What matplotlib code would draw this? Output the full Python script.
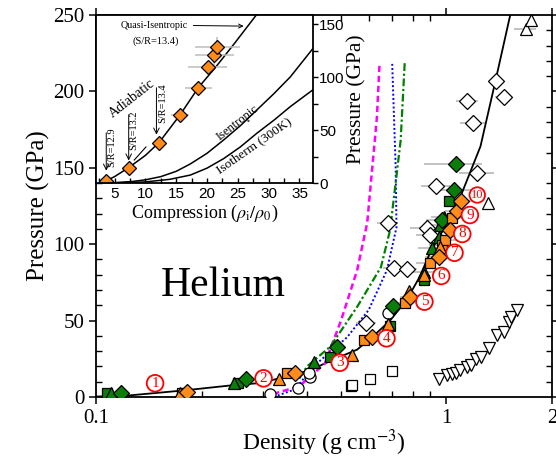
import numpy as np
import matplotlib
matplotlib.use("Agg")
import matplotlib.pyplot as plt
from matplotlib.ticker import FixedLocator, NullFormatter, MultipleLocator

plt.rcParams['font.family'] = ['Liberation Serif', 'DejaVu Serif']
plt.rcParams['mathtext.fontset'] = 'stix'

# ── Main panel data (density g/cc, pressure GPa) ──────────────────────────────
fit_rho = [0.1, 0.12, 0.18, 0.25, 0.29, 0.35, 0.41, 0.47, 0.556, 0.633, 0.69,
           0.77, 0.84, 0.9, 1.0, 1.1, 1.25, 1.38, 1.52]
fit_p   = [0.3, 0.7, 4.4, 7.9, 9.0, 13.3, 17.7, 24.0, 31.0, 42.0, 50.0,
           63.5, 79.0, 95.0, 113.0, 132.0, 164.0, 207.0, 250.0]

mag_rho = [0.32, 0.38, 0.45, 0.50, 0.556, 0.594, 0.633, 0.644]
mag_p   = [2, 7, 22, 50, 83, 114, 183, 218]
blu_rho = [0.33, 0.37, 0.417, 0.52, 0.60, 0.676, 0.72, 0.716, 0.70]
blu_p   = [1, 5, 20, 39, 57, 83, 111, 151, 218]
grn_rho = [0.38, 0.40, 0.466, 0.556, 0.65, 0.69, 0.74, 0.76]
grn_p   = [12, 20, 33, 59, 85, 109, 168, 219]

gd_rho = [0.118, 0.267, 0.487, 0.704, 0.972, 1.054, 1.061]
gd_p   = [2.4, 11.6, 33.0, 59.6, 115.8, 135.5, 152.5]
gd_err = [0, 0, 0, 0, 0.10, 0.14, 0.20]

gt_rho = [0.110, 0.247, 0.418, 0.861, 0.910, 0.951, 0.957, 0.983]
gt_p   = [2.4, 9.0, 23.1, 82.0, 97.3, 105.0, 112.6, 118.0]
gt_err = [0, 0, 0, 0.07, 0.08, 0.08, 0.08, 0.08]

gs_rho = [0.1075, 0.2545, 0.466, 0.692, 0.861, 1.015]
gs_p   = [2.3, 9.4, 26.4, 46.5, 76.6, 128.5]

od_rho = [0.1816, 0.370, 0.6135, 0.789, 0.951, 1.022, 1.073, 1.102]
od_p   = [3.5, 15.5, 39.0, 65.2, 91.4, 109.3, 122.0, 128.5]
od_err = [0, 0, 0, 0.05, 0.08, 0.08, 0.08, 0.08]

os_rho = [0.176, 0.3507, 0.580, 0.759, 0.896, 0.972, 0.993, 1.038]
os_p   = [2.3, 15.5, 37.3, 61.3, 87.5, 99.5, 102.7, 117.0]
os_err = [0, 0, 0, 0.05, 0.08, 0.08, 0.08, 0.08]

ot_rho = [0.174, 0.332, 0.538, 0.680, 0.780, 0.861, 0.961]
ot_p   = [2.4, 11.6, 27.5, 47.8, 69.6, 80.0, 98.4]

circ_rho = [0.314, 0.378, 0.409, 0.405, 0.680]
circ_p   = [1.8, 5.7, 13.3, 16.0, 55.2]

sq_rho = [0.534, 0.538, 0.6065, 0.6995]
sq_p   = [7.2, 7.9, 11.6, 17.0]

dia_rho = [0.680, 0.710, 0.772, 0.591, 0.877, 0.900, 0.936, 1.224, 1.192, 1.146, 1.458, 1.387]
dia_p   = [113.7, 84.2, 83.6, 48.2, 110.4, 106.0, 137.9, 146.8, 179.5, 194.0, 196.5, 207.0]
dia_err = [0.046, 0.05, 0.05, 0.04, 0.09, 0.08, 0.09, 0.14, 0.10, 0.08, 0.08, 0.06]

dt_rho = [0.951, 1.005, 1.038, 1.061, 1.096, 1.141, 1.171, 1.21, 1.251, 1.321,
          1.396, 1.458, 1.506, 1.525, 1.592]
dt_p   = [11.6, 14.4, 15.0, 15.9, 17.7, 19.4, 21.0, 24.7, 26.4, 31.8,
          40.6, 42.7, 49.3, 52.6, 57.0]

ut_rho = [1.313, 1.682, 1.738]
ut_p   = [126.8, 240.6, 246.7]
ut_err = [0, 0.12, 0]

lab_num = ['1', '2', '3', '4', '5', '6', '7', '8', '9', '10']
lab_rho = [0.1474, 0.3006, 0.496, 0.674, 0.865, 0.966, 1.054, 1.109, 1.166, 1.224]
lab_p   = [9.0, 12.2, 22.4, 38.4, 62.4, 79.2, 94.4, 106.7, 119.1, 132.2]

# ── Inset data (compression, pressure GPa) ───────────────────────────────────
qi_x = [3.6, 5.0, 7.3, 10.0, 12.2, 15.6, 18.6, 21.5, 24.5, 28.0]
qi_p = [2, 6, 14.5, 26, 38, 64, 90, 110, 132, 158.5]
is_x = [3, 5.5, 8, 10, 12.5, 15, 17.3, 20, 22.7, 25.4, 28.1, 30.8, 33.5, 37.2]
is_p = [0, 0.5, 1.5, 3, 6, 11, 18, 28, 40.6, 54, 69, 84, 100, 127]
it_x = [3, 6, 10, 14, 17.3, 20, 22.7, 25.4, 28.1, 30.8, 33.5, 37.2]
it_p = [0, 0.3, 1, 3.5, 7.5, 14, 23, 34, 47, 59, 72, 88]
ins_x    = [3.66, 7.3, 12.2, 15.6, 18.6, 20.1, 21.2, 21.7]
ins_p    = [1.9, 14.4, 38.0, 64.0, 90.0, 109.0, 121.0, 128.0]
ins_xerr = [0, 0, 0, 1.5, 2.2, 3.2, 3.2, 3.7]
ins_perr = [0, 0, 0, 0, 4, 6, 10, 10]

GREEN = '#0a7d0a'
ORANGE = '#ff8c1a'
GRAY = '#bdbdbd'

fig = plt.figure(figsize=(5.56, 4.59), dpi=100)
ax = fig.add_axes([0.1727, 0.1351, 0.8201, 0.8322])

def err(x, y, e):
    ax.errorbar(x, y, xerr=np.asarray(e), fmt='none', ecolor=GRAY,
                elinewidth=1.3, zorder=2)

err(dia_rho, dia_p, dia_err)
err(gd_rho, gd_p, gd_err)
err(gt_rho, gt_p, gt_err)
err(od_rho, od_p, od_err)
err(os_rho, os_p, os_err)
err(ut_rho, ut_p, ut_err)

ax.plot(fit_rho, fit_p, color='black', lw=1.3, zorder=3)
ax.plot(mag_rho, mag_p, color='magenta', lw=1.8, ls=(0, (2.5, 1.5)), zorder=3)
ax.plot(blu_rho, blu_p, color='blue', lw=1.4, ls=(0, (1, 1.2)), zorder=3)
ax.plot(grn_rho, grn_p, color='green', lw=1.6, ls=(0, (3.5, 1.2, 1, 1.2)), zorder=3)

mk = dict(ls='none', mec='black', mew=0.9, zorder=4)
ax.plot(sq_rho, sq_p, marker='s', ms=7.5, mfc='white', **mk)
ax.plot(circ_rho, circ_p, marker='o', ms=8, mfc='white', **mk)
ax.plot(dt_rho, dt_p, marker='v', ms=9, mfc='white', **mk)
ax.plot(ut_rho, ut_p, marker='^', ms=9, mfc='white', **mk)
ax.plot(dia_rho, dia_p, marker='D', ms=8.5, mfc='white', **mk)
ax.plot(gs_rho, gs_p, marker='s', ms=7.5, mfc=GREEN, **mk)
ax.plot(gt_rho, gt_p, marker='^', ms=9, mfc=GREEN, **mk)
ax.plot(gd_rho, gd_p, marker='D', ms=8.5, mfc=GREEN, **mk)
ax.plot(os_rho, os_p, marker='s', ms=7.5, mfc=ORANGE, **mk)
ax.plot(ot_rho, ot_p, marker='^', ms=9, mfc=ORANGE, **mk)
ax.plot(od_rho, od_p, marker='D', ms=8.5, mfc=ORANGE, **mk)

for t, x, y in zip(lab_num, lab_rho, lab_p):
    ax.text(x, y, t, color='red', fontsize=11 if len(t) == 1 else 9,
            ha='center', va='center', zorder=6,
            bbox=dict(boxstyle='circle,pad=0.12', fc='white', ec='red', lw=1.3))

ax.text(0.2306, 73, 'Helium', fontsize=30, ha='center', va='center')

ax.set_xscale('log')
ax.set_xlim(0.1, 2.0)
ax.set_ylim(0, 250)
ax.xaxis.set_major_locator(FixedLocator([0.1, 1, 2]))
ax.xaxis.set_minor_locator(FixedLocator([0.2, 0.3, 0.4, 0.5, 0.6, 0.7, 0.8, 0.9]))
ax.set_xticklabels(['0.1', '1', '2'])
ax.xaxis.set_minor_formatter(NullFormatter())
ax.yaxis.set_major_locator(MultipleLocator(50))
ax.yaxis.set_minor_locator(MultipleLocator(10))
ax.tick_params(which='major', direction='out', length=5, width=1.1, labelsize=15,
               top=True, right=True)
ax.tick_params(which='minor', direction='in', length=4, width=1, top=True, right=True)
for s in ax.spines.values():
    s.set_linewidth(1.3)
ax.set_xlabel('Density (g cm$^{-3}$)', fontsize=17, labelpad=0)
ax.set_ylabel('Pressure (GPa)', fontsize=18, labelpad=2)

# ── Inset ────────────────────────────────────────────────────────────────────
ax2 = fig.add_axes([0.1727, 0.6013, 0.3903, 0.366])
ax2.set_facecolor('white')
ax2.plot(qi_x, qi_p, color='black', lw=1.1)
ax2.plot(is_x, is_p, color='black', lw=1.1)
ax2.plot(it_x, it_p, color='black', lw=1.1)
ax2.errorbar(ins_x, ins_p, xerr=ins_xerr, yerr=ins_perr, fmt='none',
             ecolor=GRAY, elinewidth=1.1)
ax2.plot(ins_x, ins_p, marker='D', ms=7.5, ls='none', mfc=ORANGE, mec='black', mew=0.9)

ax2.set_xlim(2, 37.2)
ax2.set_ylim(0, 158.5)
ax2.xaxis.set_major_locator(MultipleLocator(5))
ax2.xaxis.set_minor_locator(MultipleLocator(2.5))
ax2.yaxis.set_major_locator(MultipleLocator(50))
ax2.yaxis.set_minor_locator(MultipleLocator(25))
ax2.yaxis.tick_right()
ax2.yaxis.set_label_position('right')
ax2.tick_params(axis='x', which='both', direction='in', length=3.5, width=1)
ax2.tick_params(axis='y', which='both', direction='out', length=3.5, width=1,
                left=False, right=True)
for lab in ax2.get_xticklabels() + ax2.get_yticklabels():
    lab.set_family(['Liberation Sans', 'DejaVu Sans'])
    lab.set_fontsize(11)
ax2.tick_params(axis='x', pad=3)
ax2.tick_params(axis='y', pad=1)
for s in ax2.spines.values():
    s.set_linewidth(1.3)
ax2.set_xlabel(r'Compression ($\rho_{\rm i}/\rho_0$)', fontsize=13, labelpad=1)
ax2.set_ylabel('Pressure (GPa)', fontsize=15.5, labelpad=2)

ax2.annotate('Quasi-Isentropic', xy=(26.4, 148), xytext=(6, 149), fontsize=7.2,
             ha='left', va='center',
             arrowprops=dict(arrowstyle='->', lw=0.7, color='black'))
ax2.text(11.7, 134, '(S/R=13.4)', fontsize=7.5, ha='center', va='center')
ax2.text(7.8, 80, 'Adiabatic', fontsize=10, rotation=38, ha='center', va='center')
ax2.plot([8.2, 10.1], [21.7, 34], color='black', lw=0.8)
for ax_x, y0, y1, tx, ty, s in [(3.66, 50, 9, 4.6, 34, 'S/R=12.9'),
                                (7.3, 67, 18.6, 8.2, 50, 'S/R=13.2'),
                                (11.8, 92.5, 43, 12.8, 75, 'S/R=13.4')]:
    ax2.annotate('', xy=(ax_x, y1), xytext=(ax_x, y0),
                 arrowprops=dict(arrowstyle='->', lw=0.7, color='black'))
    ax2.text(tx, ty, s, fontsize=7.5, rotation=90, ha='center', va='center')
ax2.text(24.9, 57, 'Isentropic', fontsize=9, rotation=38, ha='center', va='center')
ax2.text(27.6, 35, 'Isotherm (300K)', fontsize=9.5, rotation=35, ha='center', va='center')

fig.savefig('out.png', dpi=100)
